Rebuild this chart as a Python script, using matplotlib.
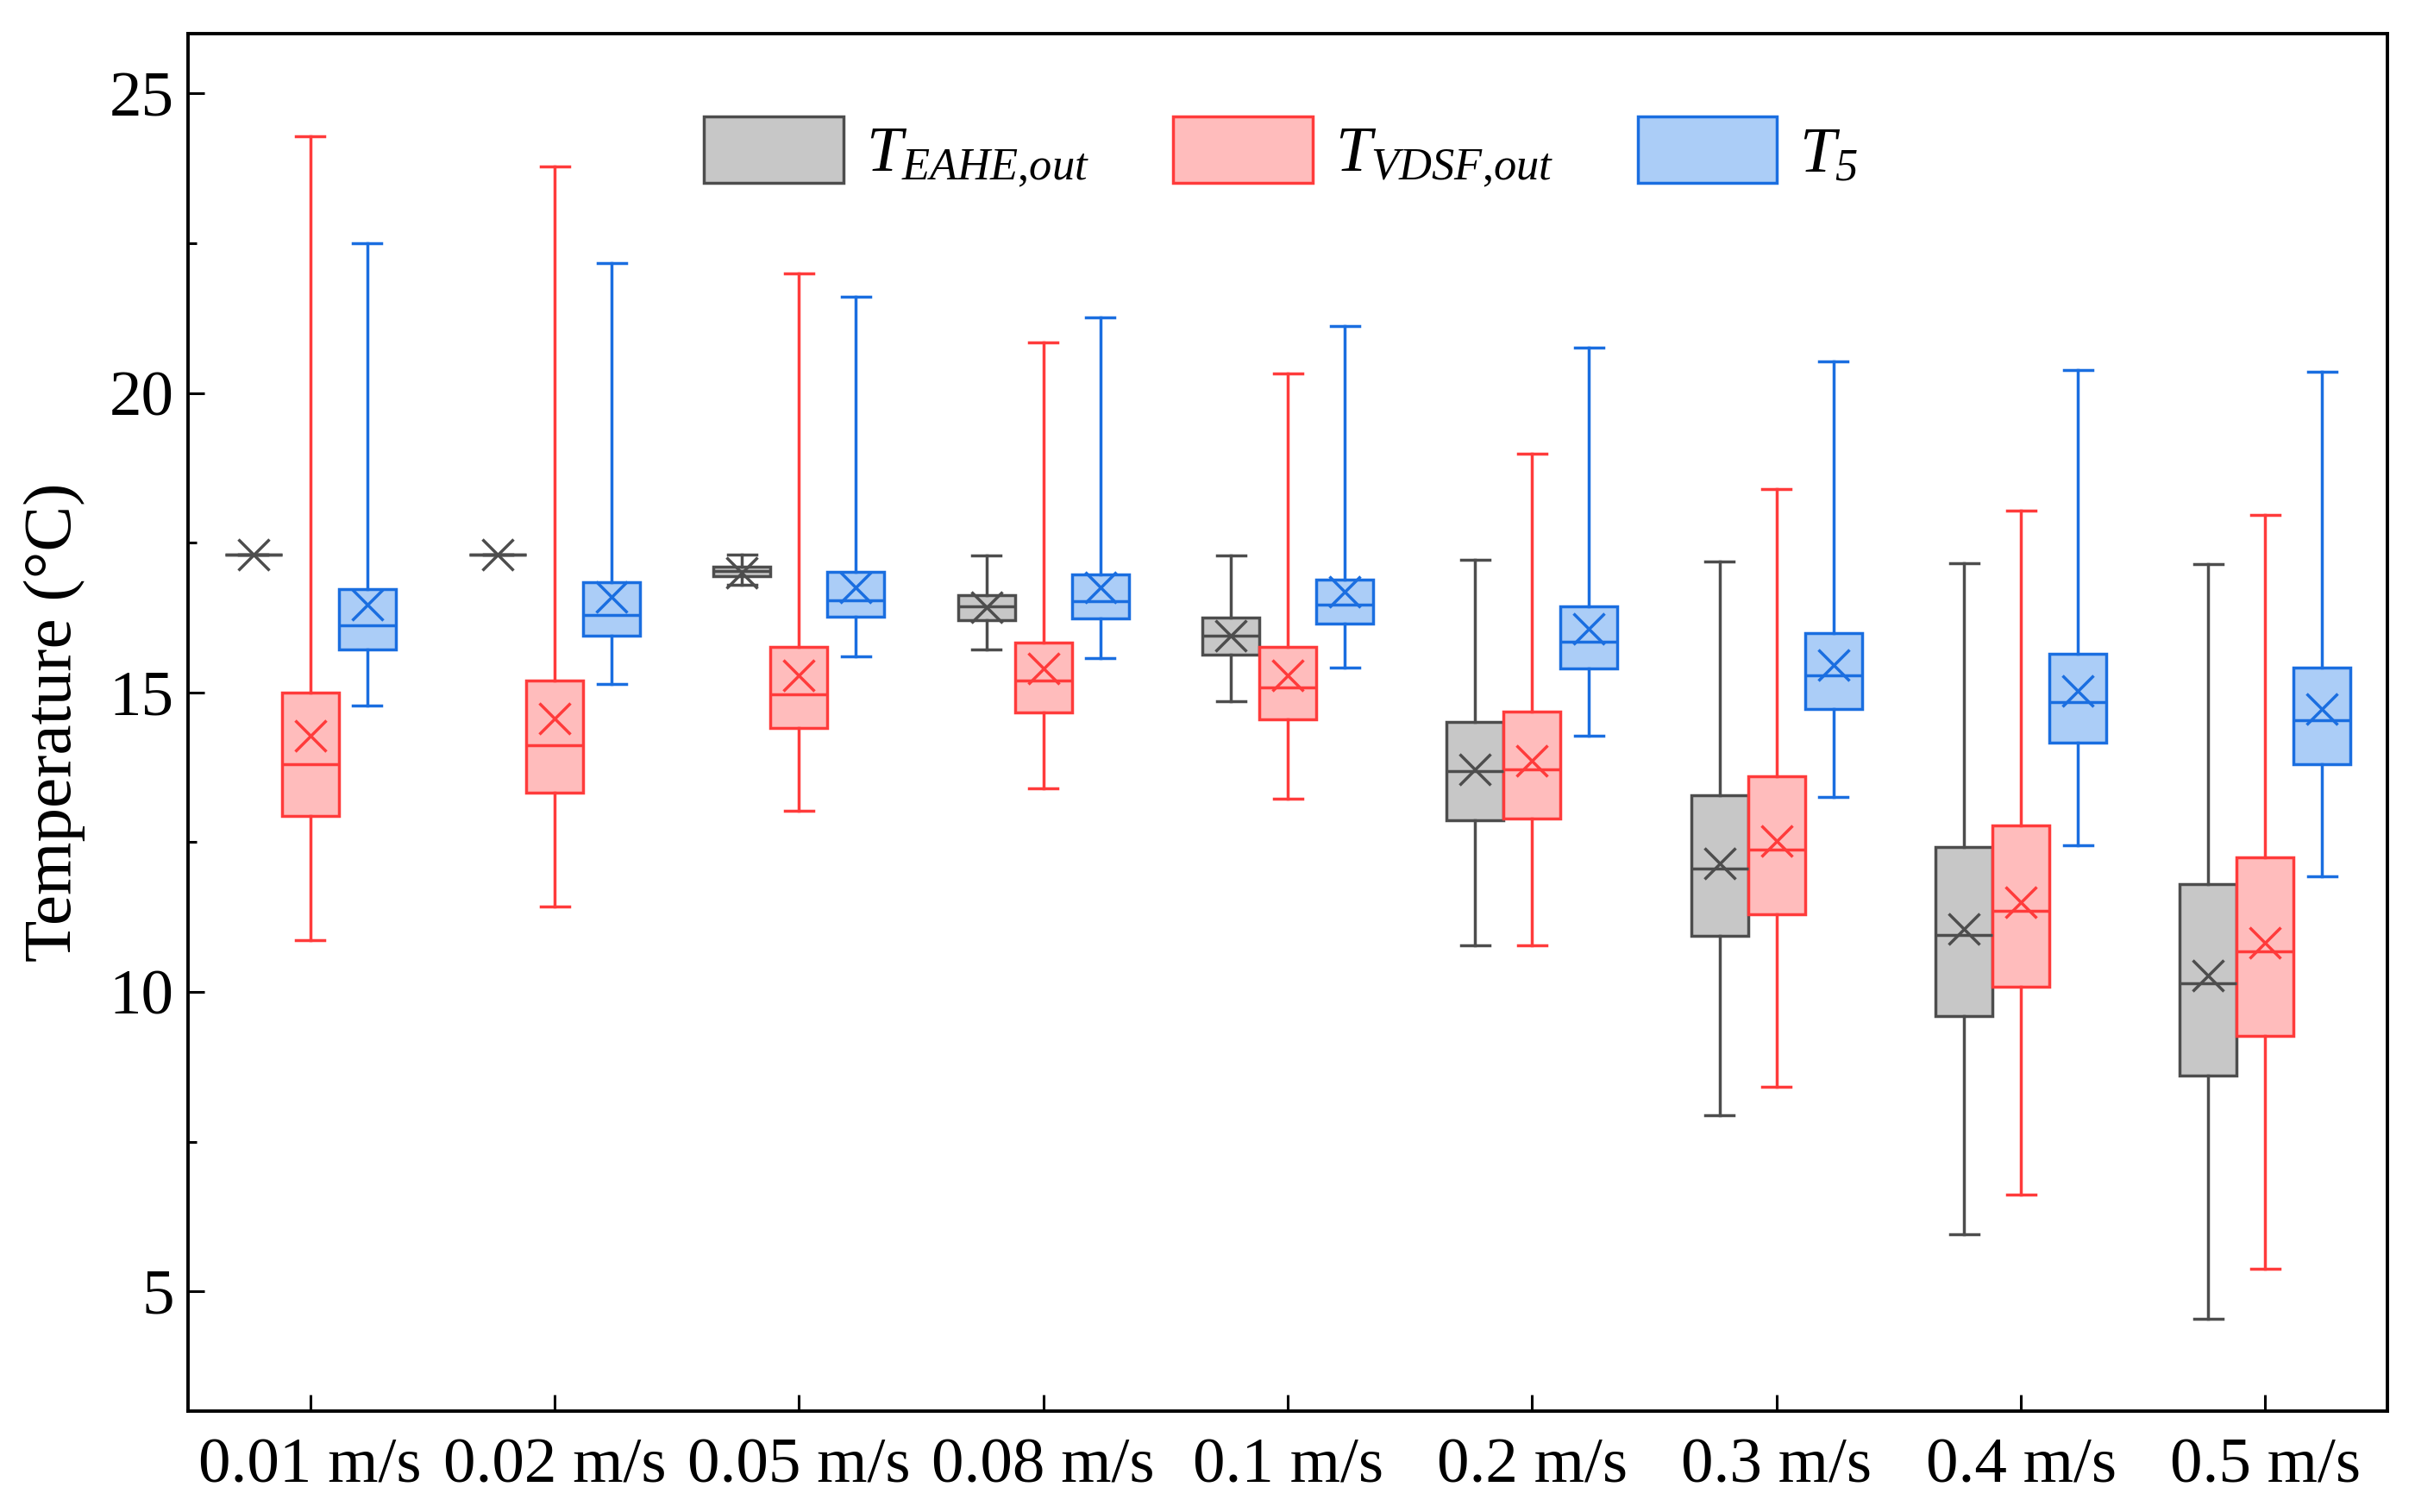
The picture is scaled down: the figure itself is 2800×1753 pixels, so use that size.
import numpy as np
import matplotlib
matplotlib.use("Agg")
import matplotlib.pyplot as plt
from matplotlib.patches import Patch
from matplotlib.ticker import MultipleLocator

plt.rcParams['font.family'] = ['Liberation Serif', 'DejaVu Serif']
plt.rcParams['mathtext.fontset'] = 'custom'
plt.rcParams['mathtext.it'] = 'Liberation Serif:italic'
plt.rcParams['mathtext.rm'] = 'Liberation Serif'
plt.rcParams['mathtext.sf'] = 'Liberation Serif:italic'  # used for italic digit

categories = ['0.01 m/s', '0.02 m/s', '0.05 m/s', '0.08 m/s', '0.1 m/s',
              '0.2 m/s', '0.3 m/s', '0.4 m/s', '0.5 m/s']

# T_EAHE,out
eahe_lo = [17.30, 17.30, 16.80, 15.71, 14.85, 10.78, 7.94, 5.96, 4.54]
eahe_q1 = [17.30, 17.30, 16.94, 16.21, 15.63, 12.86, 10.94, 9.59, 8.61]
eahe_med = [17.30, 17.30, 17.03, 16.43, 15.94, 13.68, 12.06, 10.95, 10.15]
eahe_q3 = [17.30, 17.30, 17.10, 16.62, 16.25, 14.50, 13.28, 12.42, 11.80]
eahe_hi = [17.30, 17.30, 17.30, 17.29, 17.29, 17.22, 17.19, 17.16, 17.14]
eahe_mean = [17.30, 17.30, 17.00, 16.42, 15.94, 13.72, 12.15, 11.05, 10.27]

# T_VDSF,out
vdsf_lo = [10.86, 11.43, 13.03, 13.40, 13.22, 10.78, 8.42, 6.62, 5.38]
vdsf_q1 = [12.94, 13.33, 14.41, 14.66, 14.55, 12.90, 11.30, 10.09, 9.26]
vdsf_med = [13.80, 14.12, 14.97, 15.20, 15.09, 13.72, 12.38, 11.36, 10.68]
vdsf_q3 = [15.00, 15.20, 15.76, 15.83, 15.76, 14.68, 13.60, 12.78, 12.25]
vdsf_hi = [24.28, 23.78, 22.00, 20.84, 20.32, 18.99, 18.39, 18.03, 17.97]
vdsf_mean = [14.28, 14.56, 15.28, 15.40, 15.29, 13.86, 12.52, 11.50, 10.82]

# T_5
t5_lo = [14.78, 15.14, 15.60, 15.57, 15.41, 14.28, 13.25, 12.45, 11.93]
t5_q1 = [15.71, 15.94, 16.26, 16.24, 16.15, 15.40, 14.72, 14.16, 13.80]
t5_med = [16.12, 16.30, 16.54, 16.53, 16.47, 15.85, 15.28, 14.84, 14.54]
t5_q3 = [16.72, 16.84, 17.01, 16.97, 16.89, 16.43, 15.99, 15.65, 15.42]
t5_hi = [22.50, 22.17, 21.60, 21.26, 21.12, 20.75, 20.52, 20.38, 20.36]
t5_mean = [16.46, 16.60, 16.76, 16.76, 16.68, 16.06, 15.46, 15.02, 14.72]

series = [
    ('$T_{EAHE{,}out}$', -0.233, '#c7c7c7', '#4d4d4d',
     eahe_lo, eahe_q1, eahe_med, eahe_q3, eahe_hi, eahe_mean),
    ('$T_{VDSF{,}out}$', 0.0, '#ffbcbc', '#ff3b3b',
     vdsf_lo, vdsf_q1, vdsf_med, vdsf_q3, vdsf_hi, vdsf_mean),
    ('$T_{\\mathsf{5}}$', 0.233, '#abcdf7', '#1a6ee0',
     t5_lo, t5_q1, t5_med, t5_q3, t5_hi, t5_mean),
]

fig = plt.figure(figsize=(14, 8.765), dpi=200)
ax = fig.add_axes([0.0779, 0.0667, 0.9107, 0.9111])

width = 0.233
lw = 1.25
x = np.arange(len(categories))
handles = []
for label, off, face, edge, lo, q1, med, q3, hi, mean in series:
    stats = []
    for i in range(len(categories)):
        stats.append(dict(whislo=lo[i], q1=q1[i], med=med[i], q3=q3[i],
                          whishi=hi[i], mean=mean[i], fliers=[]))
    ax.bxp(stats, positions=x + off, widths=width, capwidths=width / 2,
           showmeans=True, patch_artist=True, manage_ticks=False,
           boxprops=dict(facecolor=face, edgecolor=edge, linewidth=lw),
           medianprops=dict(color=edge, linewidth=lw),
           whiskerprops=dict(color=edge, linewidth=lw),
           capprops=dict(color=edge, linewidth=lw),
           meanprops=dict(marker='x', markeredgecolor=edge, markersize=13,
                          markeredgewidth=lw))
    handles.append(Patch(facecolor=face, edgecolor=edge, linewidth=lw, label=label))

ax.set_xlim(-0.5, 8.5)
ax.set_ylim(3, 26)
ax.set_xticks(x)
ax.set_xticklabels(categories)
ax.yaxis.set_major_locator(MultipleLocator(5))
ax.yaxis.set_minor_locator(MultipleLocator(2.5))
ax.tick_params(axis='both', which='both', direction='in', labelsize=27, width=1.1)
ax.tick_params(axis='both', which='major', length=7)
ax.tick_params(axis='y', which='minor', length=3.5)
ax.tick_params(axis='x', which='major', pad=11)
ax.tick_params(axis='y', which='major', pad=6)
ax.set_ylabel('Temperature (°C)', fontsize=28.5, labelpad=10)
for s in ax.spines.values():
    s.set_linewidth(1.4)

ax.legend(handles=handles, loc='upper center', bbox_to_anchor=(0.497, 0.982),
          ncol=3, frameon=False, fontsize=27, handlelength=2.15, handleheight=1.2,
          handletextpad=0.35, columnspacing=1.3)

fig.savefig('out.png', dpi=200)
